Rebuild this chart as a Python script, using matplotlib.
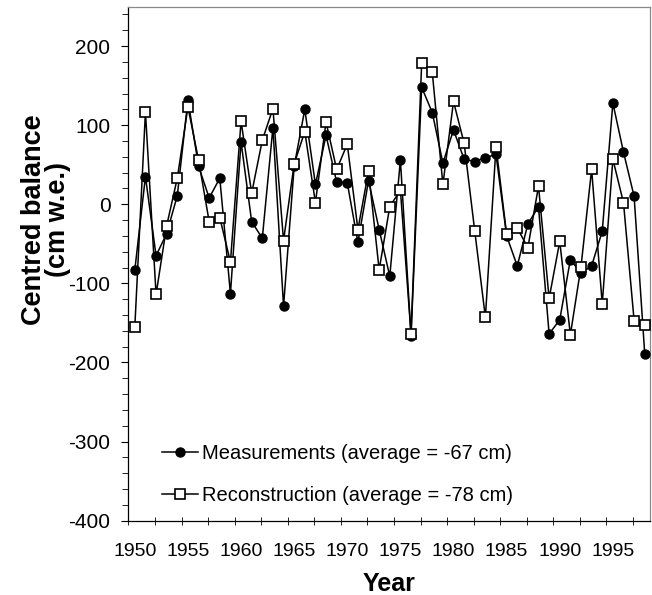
import numpy as np
import matplotlib.pyplot as plt
from matplotlib.ticker import MultipleLocator, FixedLocator

plt.rcParams['font.family'] = ['Liberation Sans', 'DejaVu Sans']
plt.rcParams['axes.unicode_minus'] = False

years = np.arange(1950, 1999)

# centred balance, cm w.e.
measured = [-83, 35, -65, -37, 11, 132, 48, 8, 33, -113,
            79, -22, -43, 97, -129, 48, 120, 25, 87, 28,
            27, -48, 30, -32, -91, 56, -166, 148, 116, 52,
            94, 57, 54, 59, 63, -40, -78, -25, -3, -164,
            -146, -70, -87, -78, -34, 128, 66, 10, -189]
reconstructed = [-155, 117, -114, -27, 33, 123, 56, -22, -17, -73,
                 105, 14, 81, 121, -46, 51, 92, 2, 104, 44,
                 76, -32, 42, -83, -3, 18, -164, 178, 167, 25,
                 130, 77, -34, -143, 73, -38, -30, -55, 23, -119,
                 -47, -165, -79, 44, -126, 57, 2, -147, -153]

lab_meas = "Measurements (average = -67 cm)"
lab_rec = "Reconstruction (average = -78 cm)"

fig = plt.figure(figsize=(6.52, 5.95), dpi=100)
ax = fig.add_axes([0.197, 0.125, 0.8, 0.864])

ax.plot(years, measured, '-o', color='black', lw=1.1, ms=6.5,
        label=lab_meas, clip_on=False, zorder=3)
ax.plot(years, reconstructed, '-s', color='black', lw=1.1, ms=7.5,
        mfc='white', mec='black', mew=1.2, label=lab_rec, clip_on=False, zorder=4)

ax.set_xlim(1949.4, 1998.5)
ax.set_ylim(-400, 250)

ax.set_yticks(np.arange(-400, 201, 100))
ax.yaxis.set_minor_locator(MultipleLocator(20))
ax.tick_params(axis='y', which='major', direction='out', length=5, width=0.8,
               labelsize=15, pad=8)
ax.tick_params(axis='y', which='minor', direction='out', length=4, width=0.6)

ax.set_xticks(np.arange(1950, 1996, 5))
ax.xaxis.set_minor_locator(FixedLocator(np.arange(1949.4, 1998.6, 2.5)))
ax.tick_params(axis='x', which='major', length=0, labelsize=14, pad=16)
ax.tick_params(axis='x', which='minor', direction='inout', length=6, width=0.6)

for s in ax.spines.values():
    s.set_linewidth(0.9)
ax.spines['top'].set_color('#888888')
ax.spines['right'].set_color('#888888')

ax.set_xlabel("Year", fontsize=18, fontweight='bold')
ax.xaxis.set_label_coords(0.5, -0.1)
ax.set_ylabel("Centred balance\n(cm w.e.)", fontsize=19.5, fontweight='bold',
              linespacing=0.9)
ax.yaxis.set_label_coords(-0.11, 0.585)

ax.legend(loc='lower left', bbox_to_anchor=(0.03, -0.005), frameon=False,
          fontsize=14.5, handlelength=1.8, handletextpad=0.2, labelspacing=1.15)

fig.savefig("out.png", dpi=100)
